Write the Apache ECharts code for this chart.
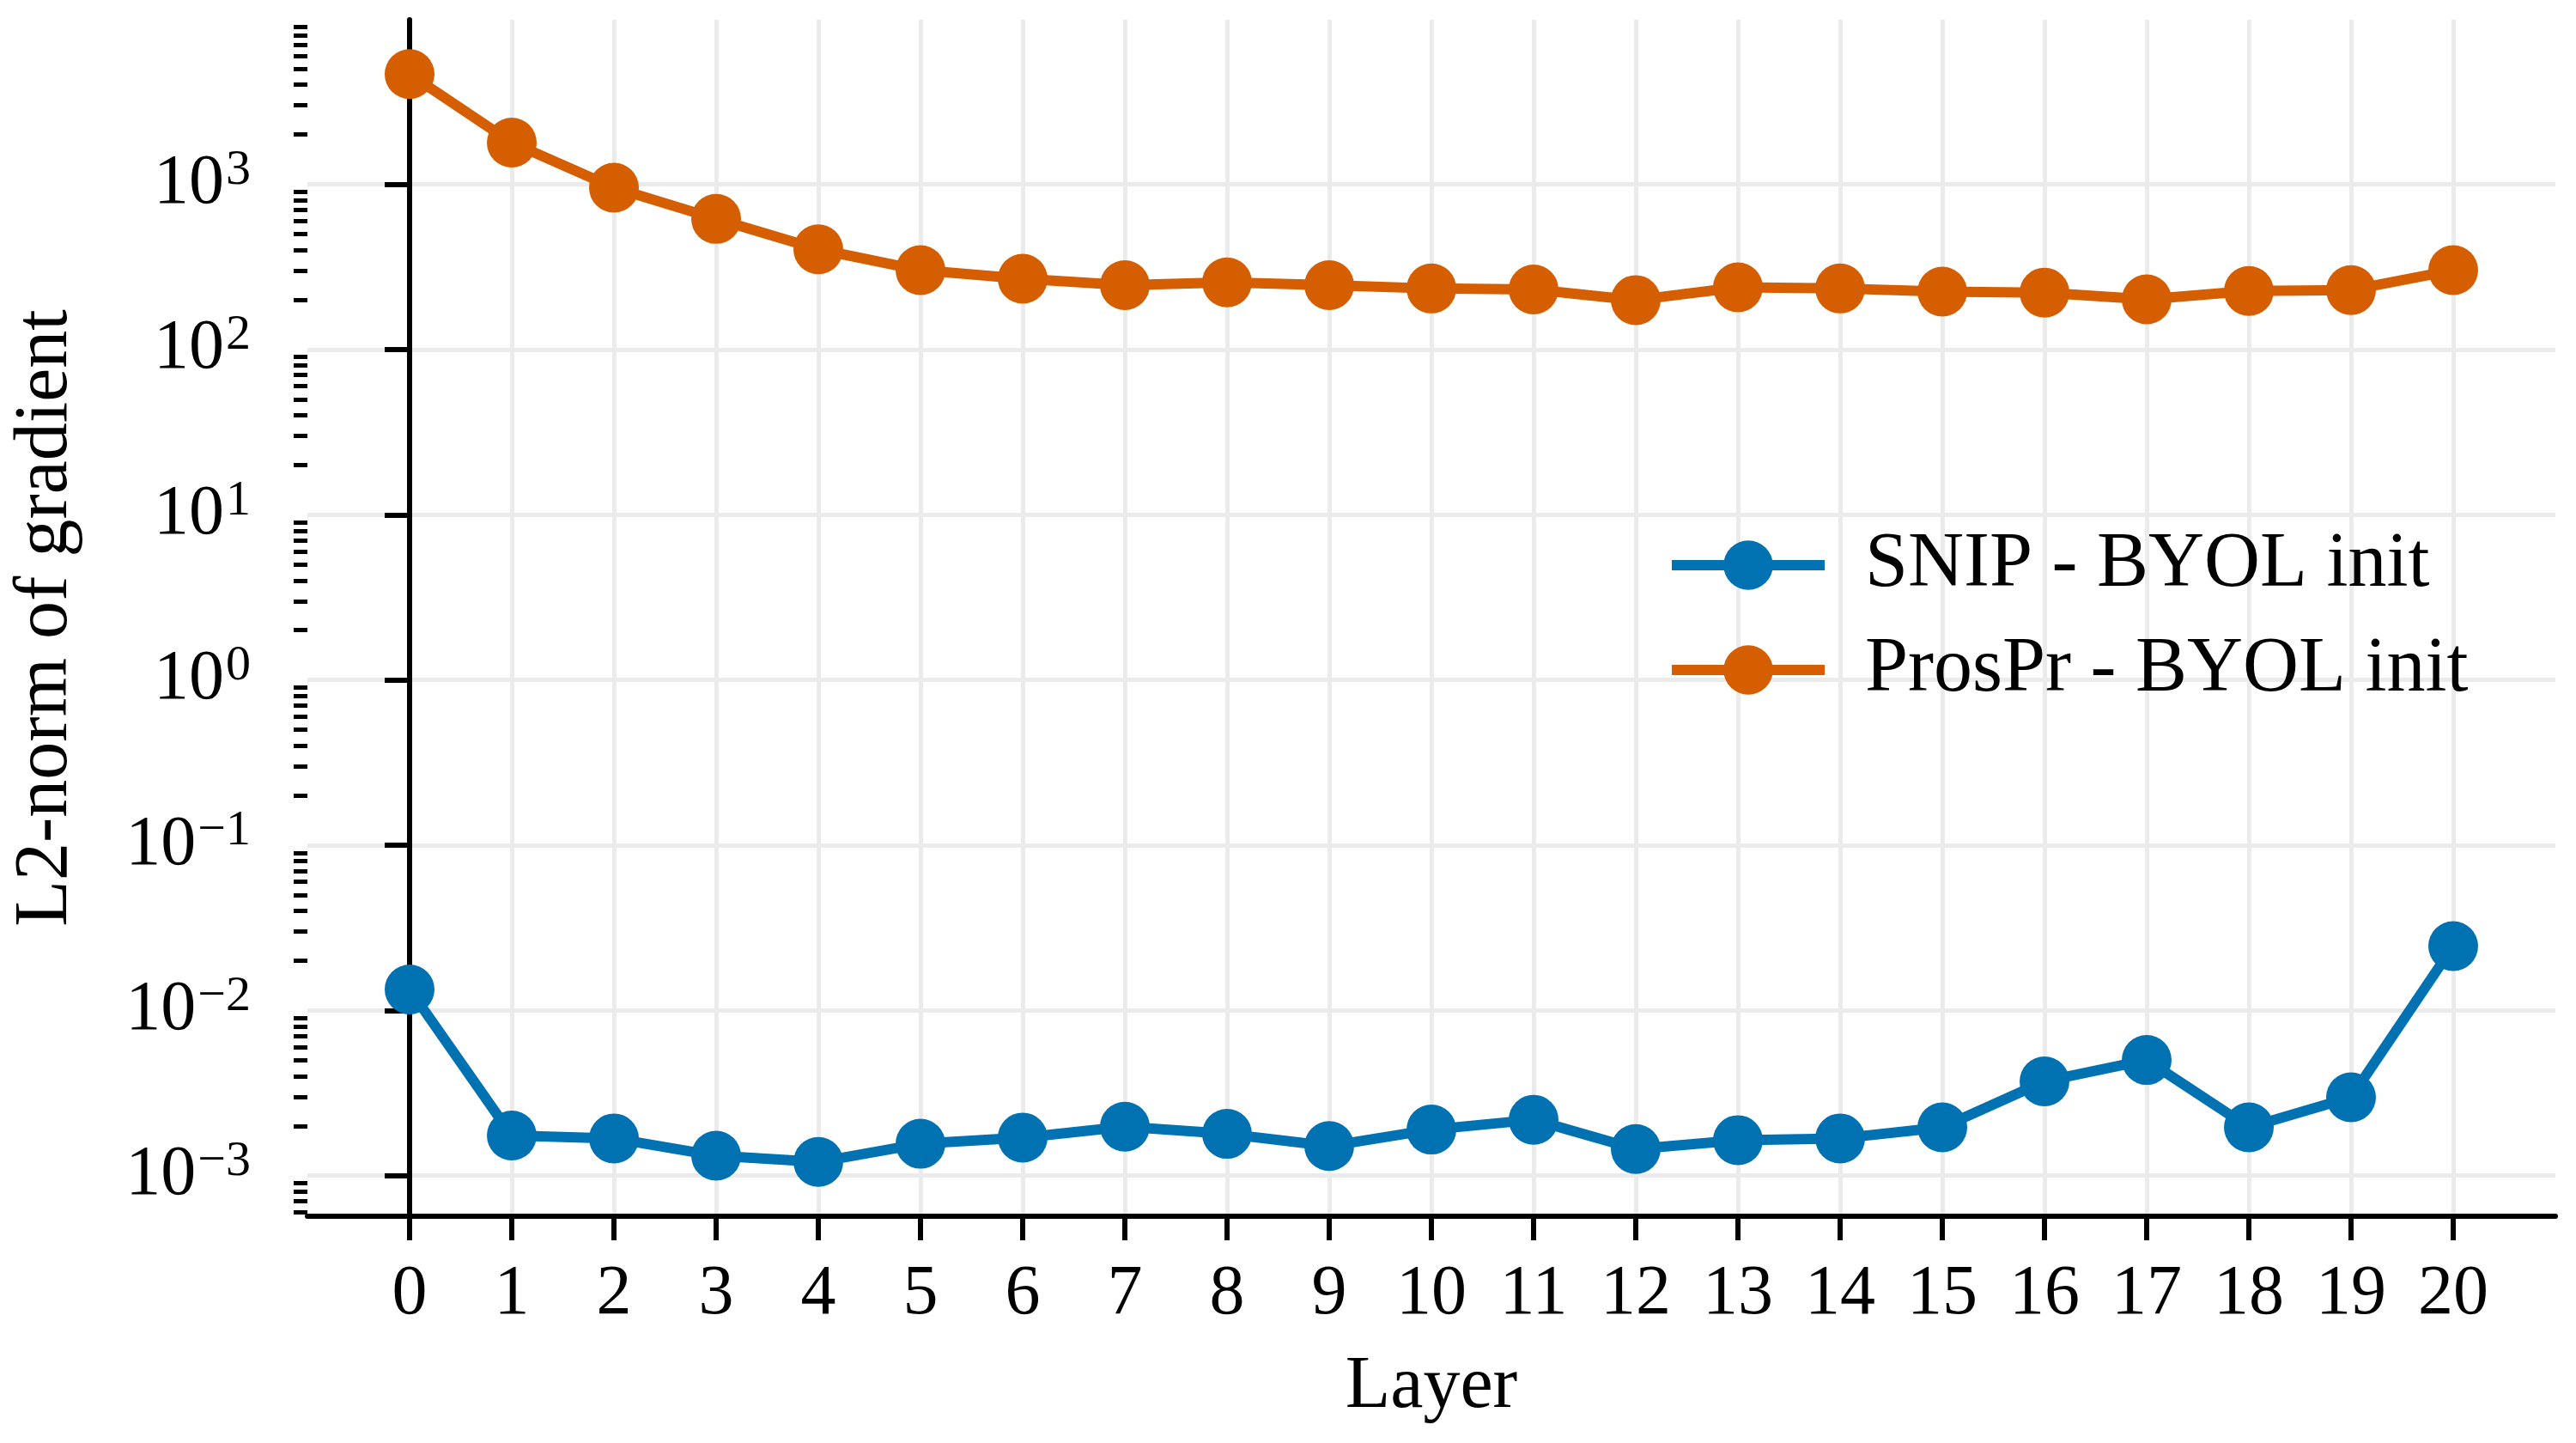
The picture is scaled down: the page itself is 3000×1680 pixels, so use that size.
<!DOCTYPE html>
<html>
<head>
<meta charset="utf-8">
<title>L2-norm of gradient per layer</title>
<script src="https://cdn.jsdelivr.net/npm/echarts@6/dist/echarts.min.js"></script>
<style>
  html, body { margin: 0; padding: 0; background: #fff; }
  #chart { width: 3000px; height: 1680px; }
</style>
</head>
<body>
<div id="chart"></div>
<script>
// layer index on x, gradient norm on a log y axis
var layers = [0, 1, 2, 3, 4, 5, 6, 7, 8, 9, 10, 11, 12, 13, 14, 15, 16, 17, 18, 19, 20];

var snipByol = [0.0134, 0.00175, 0.00168, 0.00132, 0.00121, 0.00156, 0.00170,
  0.00198, 0.00179, 0.00151, 0.00190, 0.00218, 0.00145, 0.00164, 0.00168,
  0.00196, 0.00372, 0.00501, 0.00196, 0.00298, 0.0245];

var prosprByol = [4640, 1787, 953, 617, 404, 302, 268, 245, 255, 245, 234, 231,
  199, 238, 234, 224, 221, 201, 226, 229, 302];

var seriesNames = ['SNIP - BYOL init', 'ProsPr - BYOL init'];
var seriesColors = ['#0072B2', '#D55E00'];

// y ticks: decades with labels, 2..9 of each decade as minor ticks
var yMajorTicks = [1e-3, 1e-2, 1e-1, 1, 10, 100, 1000];
var mantissas = [2, 3, 4, 5, 6, 7, 8, 9];
var yMin = 5.68e-4;
var yMax = 9.9e3;

var yMinorTicks = [];
[1e-4, 1e-3, 1e-2, 1e-1, 1, 10, 100, 1000].forEach(function (d) {
  mantissas.forEach(function (m) {
    var v = +(m * d).toPrecision(3);
    if (v > yMin && v < yMax) yMinorTicks.push(v);
  });
});

var FONT = '"Liberation Serif", "DejaVu Serif", serif';

function points(vals) {
  return vals.map(function (v, i) { return [layers[i], v]; });
}

function decadeLabel(v) {
  var e = Math.round(Math.log10(v));
  var s = e < 0 ? '\u2212' + (-e) : String(e);
  return '{b|10}{s|' + s + '}';
}

var chart = echarts.init(document.getElementById('chart'));

chart.setOption({
  animation: false,
  backgroundColor: '#ffffff',
  grid: {
    left: 358,
    right: 24,
    top: 23,
    bottom: 264,
    containLabel: false,
    outerBoundsMode: 'none'
  },
  legend: {
    orient: 'vertical',
    left: 1936,
    top: 608,
    itemWidth: 178,
    itemHeight: 72,
    itemGap: 32,
    data: seriesNames,
    lineStyle: { width: 12 },
    textStyle: {
      fontFamily: FONT,
      fontSize: 90,
      color: '#000',
      padding: [0, 0, 0, 42]
    }
  },
  xAxis: {
    type: 'value',
    min: -1,
    max: 21,
    interval: 1,
    name: 'Layer',
    nameLocation: 'middle',
    nameGap: 156,
    nameTextStyle: { fontFamily: FONT, fontSize: 86, color: '#000' },
    axisLine: { show: true, lineStyle: { color: '#000', width: 6 } },
    axisTick: {
      show: true,
      inside: false,
      length: 28,
      customValues: layers,
      lineStyle: { color: '#000', width: 6 }
    },
    axisLabel: {
      show: true,
      customValues: layers,
      margin: 50,
      fontFamily: FONT,
      fontSize: 82,
      color: '#000'
    },
    splitLine: {
      show: true,
      customValues: layers,
      lineStyle: { color: '#ebebeb', width: 5 }
    }
  },
  yAxis: [
    {
      type: 'log',
      logBase: 10,
      min: yMin,
      max: yMax,
      name: 'L2-norm of gradient',
      nameLocation: 'middle',
      nameGap: 260,
      nameTextStyle: { fontFamily: FONT, fontSize: 88, color: '#000' },
      axisLine: { show: true, lineStyle: { color: '#000', width: 6 } },
      axisTick: {
        show: true,
        length: 29,
        customValues: yMajorTicks,
        lineStyle: { color: '#000', width: 6 }
      },
      axisLabel: {
        show: true,
        customValues: yMajorTicks,
        margin: 66,
        formatter: decadeLabel,
        rich: {
          b: { fontFamily: FONT, fontSize: 82, lineHeight: 90, color: '#000' },
          s: {
            fontFamily: FONT, fontSize: 58, lineHeight: 58, color: '#000',
            verticalAlign: 'top', padding: [0, 0, 30, 2]
          }
        }
      },
      splitLine: {
        show: true,
        customValues: yMajorTicks,
        lineStyle: { color: '#ebebeb', width: 5 }
      },
      minorTick: { show: false },
      minorSplitLine: { show: false }
    },
    {
      type: 'log',
      logBase: 10,
      min: yMin,
      max: yMax,
      position: 'left',
      axisLine: { show: false },
      axisTick: {
        show: true,
        length: 16,
        customValues: yMinorTicks,
        lineStyle: { color: '#000', width: 5 }
      },
      axisLabel: { show: false },
      splitLine: { show: false }
    }
  ],
  series: [
    {
      name: seriesNames[0],
      type: 'line',
      data: points(snipByol),
      symbol: 'circle',
      symbolSize: 58,
      showAllSymbol: true,
      color: seriesColors[0],
      lineStyle: { width: 12, color: seriesColors[0] },
      itemStyle: { color: seriesColors[0], borderWidth: 0 },
      z: 3
    },
    {
      name: seriesNames[1],
      type: 'line',
      data: points(prosprByol),
      symbol: 'circle',
      symbolSize: 58,
      showAllSymbol: true,
      color: seriesColors[1],
      lineStyle: { width: 12, color: seriesColors[1] },
      itemStyle: { color: seriesColors[1], borderWidth: 0 },
      z: 4
    }
  ]
});
</script>
</body>
</html>
